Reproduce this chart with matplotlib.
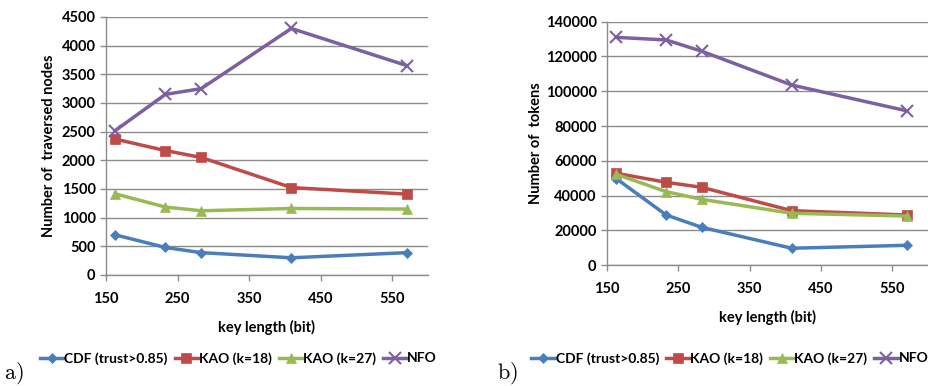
import matplotlib
matplotlib.use("Agg")
import matplotlib.pyplot as plt

plt.rcParams['font.family'] = ['Lato', 'DejaVu Sans']
plt.rcParams['mathtext.fontset'] = 'cm'

key_len = [163, 233, 283, 409, 571]
series_names = ["CDF (trust>0.85)", "KAO (k=18)", "KAO (k=27)", "NFO"]

nodes_cdf = [700, 480, 390, 300, 390]
nodes_kao18 = [2370, 2170, 2050, 1525, 1410]
nodes_kao27 = [1415, 1185, 1120, 1160, 1150]
nodes_nfo = [2520, 3150, 3250, 4300, 3650]

tokens_cdf = [49800, 28900, 21800, 9800, 11500]
tokens_kao18 = [52900, 47700, 44800, 31400, 28900]
tokens_kao27 = [52300, 42300, 37900, 29900, 28300]
tokens_nfo = [131000, 129500, 123000, 103600, 88700]

x_ticks = [150, 250, 350, 450, 550]
y_ticks_a = [0, 500, 1000, 1500, 2000, 2500, 3000, 3500, 4000, 4500]
y_ticks_b = [0, 20000, 40000, 60000, 80000, 100000, 120000, 140000]

colors = ["#4A7EBB", "#BE4B48", "#98B954", "#7D60A0"]
markers = ["D", "s", "^", "x"]
msizes = [5.5, 7, 6.5, 8]

fig = plt.figure(figsize=(9.29, 3.86), dpi=100)
ax_a = fig.add_axes([0.1141, 0.2876, 0.3466, 0.6684])
ax_b = fig.add_axes([0.6534, 0.3127, 0.3455, 0.6311])

def style(ax, data, yticks, ylabel, ylim):
    for vals, name, c, m, ms in zip(data, series_names, colors, markers, msizes):
        ax.plot(key_len, vals, color=c, lw=2.5, marker=m, ms=ms,
                mew=1.5 if m == 'x' else 0.5, mec=c, mfc=c, label=name,
                solid_joinstyle='round')
    ax.set_xlim(150, 600)
    ax.set_ylim(*ylim)
    ax.set_xticks(x_ticks)
    ax.set_yticks(yticks)
    ax.set_yticklabels([str(v) for v in yticks])
    for s in ['top', 'right']:
        ax.spines[s].set_visible(False)
    for s in ['left', 'bottom']:
        ax.spines[s].set_color('#8c8c8c')
        ax.spines[s].set_linewidth(1.0)
    ax.grid(axis='y', color='#8c8c8c', lw=1.0)
    ax.set_axisbelow(True)
    ax.tick_params(axis='both', colors='#8c8c8c', length=4, width=1,
                   labelcolor='black', labelsize=10.5)
    ax.tick_params(axis='x', pad=8)
    for lbl in ax.get_xticklabels() + ax.get_yticklabels():
        lbl.set_fontweight('bold')
    ax.set_ylabel(ylabel, fontsize=10.5, fontweight='bold')
    ax.set_xlabel("key length (bit)", fontsize=10.5, fontweight='bold', labelpad=10)

style(ax_a, [nodes_cdf, nodes_kao18, nodes_kao27, nodes_nfo], y_ticks_a,
      "Number of  traversed nodes", (0, 4500))
style(ax_b, [tokens_cdf, tokens_kao18, tokens_kao27, tokens_nfo], y_ticks_b,
      "Number of  tokens", (0, 140000))
ax_a.yaxis.set_label_coords(-0.155, 0.5)
ax_b.yaxis.set_label_coords(-0.2, 0.5)

for ax, x0 in [(ax_a, 0.043), (ax_b, 0.572)]:
    h, l = ax.get_legend_handles_labels()
    leg = fig.legend(h, l, loc='center left', bbox_to_anchor=(x0, 0.072), ncol=4,
                     frameon=False, handlelength=1.7, handletextpad=0.05,
                     columnspacing=0.5, borderpad=0, borderaxespad=0,
                     prop={'weight': 'bold', 'size': 10,
                           'family': ['Lato', 'DejaVu Sans']})

fig.text(0.004, 0.0, r'$\mathrm{a)}$', fontsize=16, ha='left', va='bottom')
fig.text(0.535, 0.0, r'$\mathrm{b)}$', fontsize=16, ha='left', va='bottom')

fig.savefig("out.png", dpi=100)
